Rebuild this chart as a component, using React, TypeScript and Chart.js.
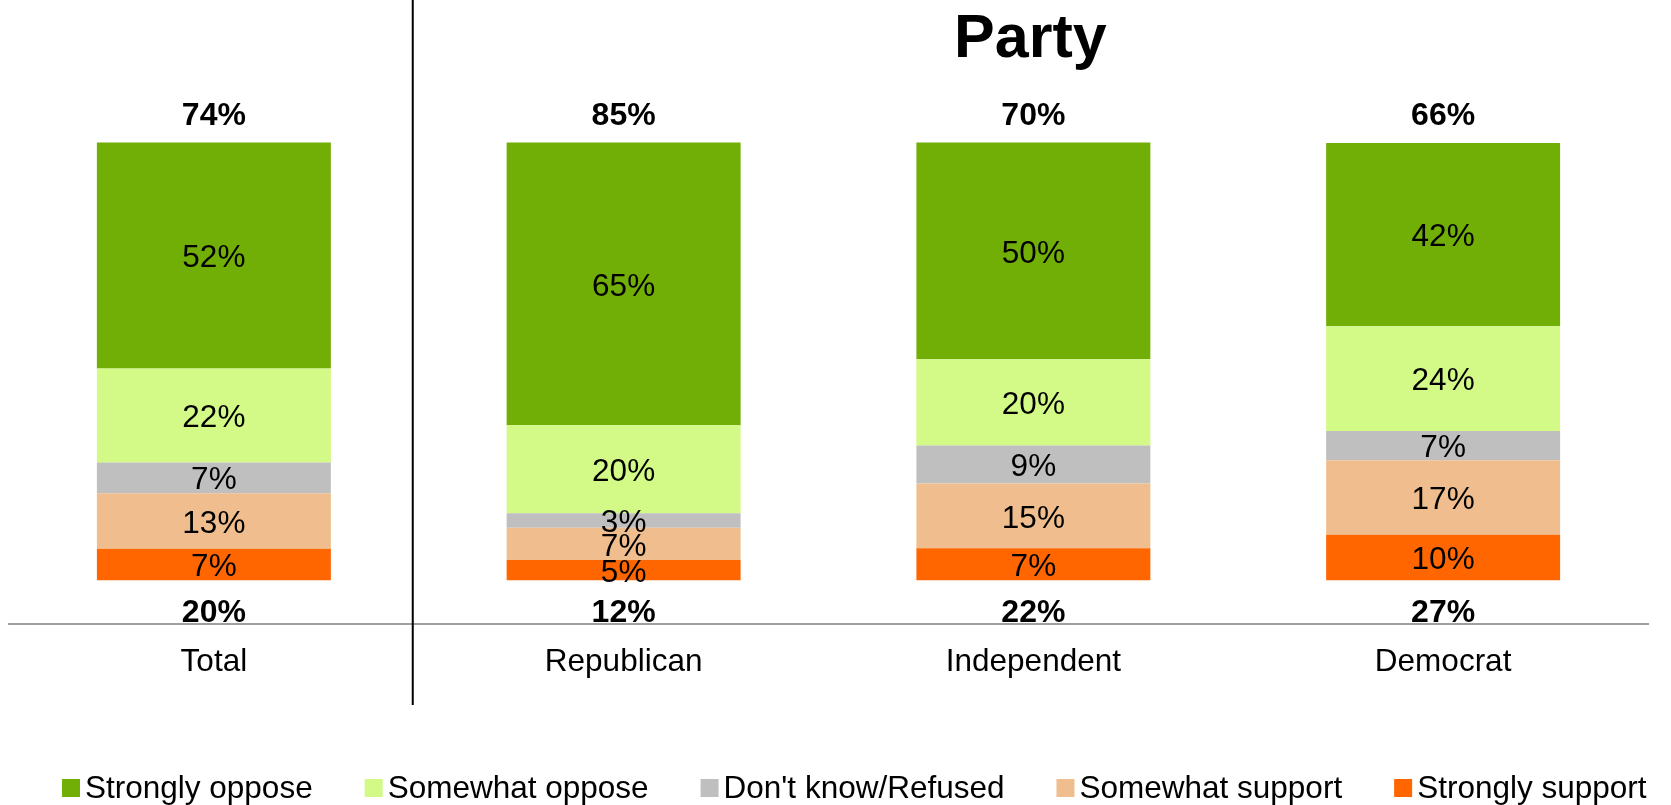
import React, { useEffect, useRef } from "react";
import { Chart, registerables } from "chart.js";

Chart.register(...registerables);

// ---- data ----
const categories = ["Total", "Republican", "Independent", "Democrat"];
const seriesNames = [
  "Strongly support",
  "Somewhat support",
  "Don't know/Refused",
  "Somewhat oppose",
  "Strongly oppose",
];
const strongSupport = [7.2, 4.6, 7.3, 10.4];
const somewhatSupport = [12.7, 7.4, 14.8, 17.0];
const dontKnow = [7.0, 3.3, 8.7, 6.7];
const somewhatOppose = [21.5, 20.1, 19.7, 23.9];
const strongOppose = [51.6, 64.6, 49.5, 41.9];
const netOppose = [74, 85, 70, 66];
const netSupport = [20, 12, 22, 27];
const seriesColors = ["#FF6600", "#F0BE8E", "#BFBFBF", "#D3FA86", "#71AE06"];
const legendOrder = [4, 3, 2, 1, 0];
const groupTitle = "Party";

const FONT = '"Liberation Sans", Arial, Helvetica, sans-serif';

const overlayPlugin = {
  id: "overlay",
  afterDatasetsDraw(chart: any) {
    const ctx = chart.ctx;
    const yScale = chart.scales.y;
    ctx.save();
    ctx.fillStyle = "#000";
    ctx.textAlign = "center";
    // segment labels
    ctx.font = `31.5px ${FONT}`;
    ctx.textBaseline = "middle";
    chart.data.datasets.forEach((ds: any, di: number) => {
      const meta = chart.getDatasetMeta(di);
      meta.data.forEach((el: any, i: number) => {
        const p = el.getProps(["x", "y", "base"], true);
        ctx.fillText(Math.round(ds.data[i]) + "%", p.x, (p.y + p.base) / 2 + 3);
      });
    });
    // net labels
    ctx.font = `bold 32px ${FONT}`;
    ctx.textBaseline = "alphabetic";
    const lastMeta = chart.getDatasetMeta(chart.data.datasets.length - 1);
    const zeroPx = yScale.getPixelForValue(0);
    lastMeta.data.forEach((el: any, i: number) => {
      const p = el.getProps(["x", "y"], true);
      ctx.fillText(netOppose[i] + "%", p.x, p.y - 18);
      ctx.fillText(netSupport[i] + "%", p.x, zeroPx + 41.5);
    });
    ctx.restore();
  },
  afterDraw(chart: any) {
    const ctx = chart.ctx;
    const xScale = chart.scales.x;
    const area = chart.chartArea;
    ctx.save();
    // divider between Total and party groups
    const divX =
      (xScale.getPixelForValue(0) + xScale.getPixelForValue(1)) / 2 - 6;
    ctx.strokeStyle = "#000";
    ctx.lineWidth = 2;
    ctx.beginPath();
    ctx.moveTo(divX, 0);
    ctx.lineTo(divX, area.bottom + 81);
    ctx.stroke();
    // group title
    ctx.fillStyle = "#000";
    ctx.textAlign = "center";
    ctx.textBaseline = "alphabetic";
    ctx.font = `bold 61px ${FONT}`;
    const tx =
      (xScale.getPixelForValue(1) + xScale.getPixelForValue(3)) / 2 - 3;
    ctx.fillText(groupTitle, tx, 57);
    // legend
    ctx.font = `31.5px ${FONT}`;
    ctx.textAlign = "left";
    let lx = area.left + 53;
    const box = 18;
    const boxTop = 779;
    const baseY = 798;
    legendOrder.forEach((di) => {
      ctx.fillStyle = seriesColors[di];
      ctx.fillRect(lx, boxTop, box, box);
      ctx.fillStyle = "#000";
      ctx.fillText(seriesNames[di], lx + box + 5, baseY);
      lx += box + 5 + ctx.measureText(seriesNames[di]).width + 52;
    });
    ctx.restore();
  },
};

export default function App() {
  const canvasRef = useRef<HTMLCanvasElement | null>(null);

  useEffect(() => {
    const canvas = canvasRef.current;
    if (!canvas) return;
    const seriesValues = [
      strongSupport,
      somewhatSupport,
      dontKnow,
      somewhatOppose,
      strongOppose,
    ];
    const chart = new Chart(canvas, {
      type: "bar",
      data: {
        labels: categories,
        datasets: seriesValues.map((vals, i) => ({
          label: seriesNames[i],
          data: vals,
          backgroundColor: seriesColors[i],
          borderWidth: 0,
          categoryPercentage: 1,
          barPercentage: 0.571,
        })),
      },
      options: {
        responsive: false,
        maintainAspectRatio: false,
        animation: false,
        devicePixelRatio: 1,
        layout: { padding: { left: 9, right: 23, top: 55, bottom: 0 } },
        plugins: {
          legend: { display: false },
          title: { display: false },
          tooltip: { enabled: false },
        },
        scales: {
          x: {
            stacked: true,
            grid: { display: false, drawTicks: false },
            border: { display: true, color: "#A0A0A0", width: 2 },
            ticks: {
              color: "#000",
              padding: 19,
              font: { family: FONT, size: 31.5 },
              maxRotation: 0,
              autoSkip: false,
            },
            afterFit: (scale: any) => {
              scale.height = 181;
            },
          },
          y: {
            stacked: true,
            display: false,
            min: -10,
            max: 120,
          },
        },
      },
      plugins: [overlayPlugin],
    });
    return () => chart.destroy();
  }, []);

  return (
    <div
      style={{
        position: "absolute",
        left: 0,
        top: 0,
        width: 1671,
        height: 805,
        background: "#fff",
      }}
    >
      <canvas ref={canvasRef} width={1671} height={805} />
    </div>
  );
}
